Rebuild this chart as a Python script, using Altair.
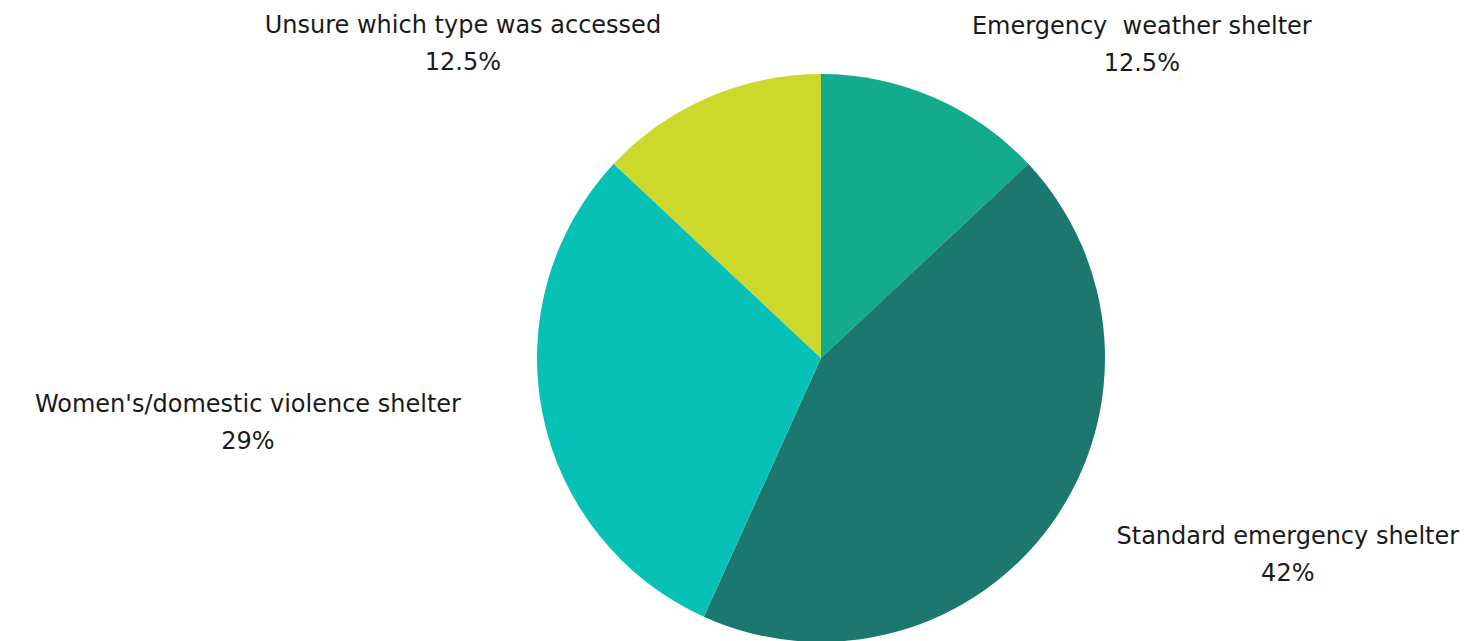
import math
import altair as alt
import pandas as pd

# Data
categories = [
    "Emergency \u00a0weather shelter",
    "Standard emergency shelter",
    "Women's/domestic violence shelter",
    "Unsure which type was accessed",
]
values = [12.5, 42, 29, 12.5]
value_labels = ["12.5%", "42%", "29%", "12.5%"]
colors = ["#13AB8C", "#1C786F", "#07C1B6", "#CDD92A"]

# Label layout (angle from 12 o'clock in degrees, distance from centre in px)
label_angles = [44.1, 111.0, 265.3, 312.8]
label_radii = [461, 500, 575, 488]

df = pd.DataFrame({
    "category": categories,
    "value": values,
    "order": list(range(len(categories))),
    "label": [f"{c}\n{v}" for c, v in zip(categories, value_labels)],
    "angle": [math.radians(a) for a in label_angles],
    "dist": label_radii,
})

CX, CY = 813, 350

pie = alt.Chart(df).mark_arc(outerRadius=284, stroke=None).encode(
    theta=alt.Theta("value:Q", stack=True),
    order=alt.Order("order:Q"),
    color=alt.Color("category:N", scale=alt.Scale(domain=categories, range=colors), legend=None),
    x=alt.value(CX),
    y=alt.value(CY),
)

labels = alt.Chart(df).mark_text(
    font="DejaVu Sans", fontSize=24, color="#1a1a1a", align="center",
    baseline="middle", lineBreak="\n", lineHeight=37,
).encode(
    theta=alt.Theta("angle:Q", scale=None),
    radius=alt.Radius("dist:Q", scale=None),
    text="label:N",
    x=alt.value(CX),
    y=alt.value(CY),
)

chart = alt.layer(pie, labels).properties(
    width=1465, height=633, padding=0, autosize="none"
).configure_view(stroke=None)

chart.save("out.html", embed_options={"renderer": "svg", "actions": False})
